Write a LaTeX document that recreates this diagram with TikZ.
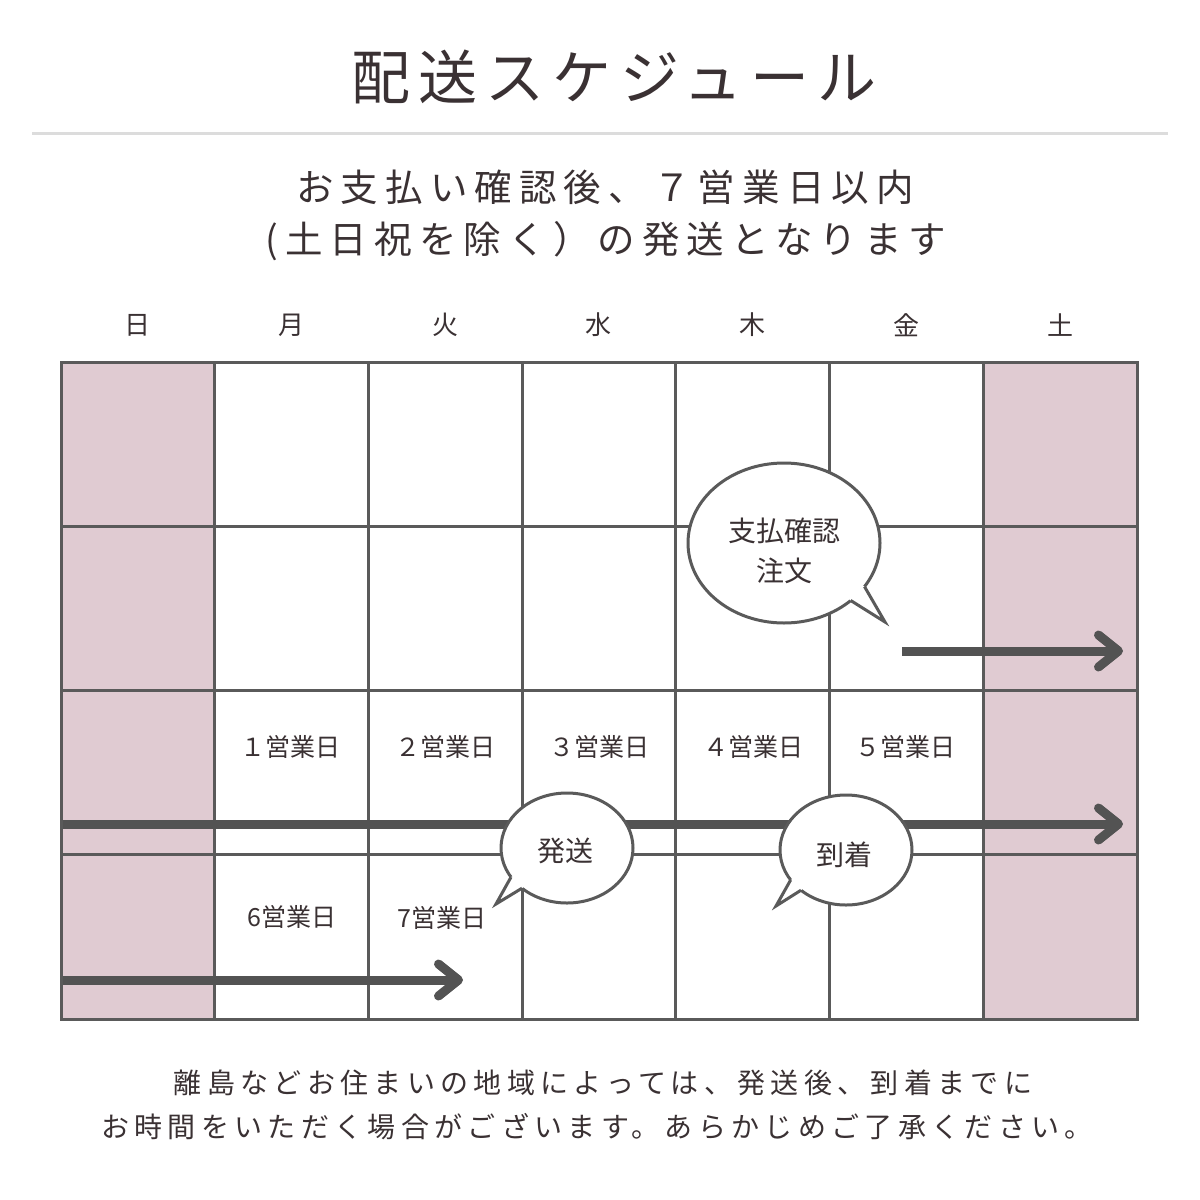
\documentclass[tikz,border=0pt]{standalone}
\usepackage{fontspec}
\usetikzlibrary{arrows.meta,shapes.geometric}
\newfontfamily\jp{Noto Sans CJK JP}
\newfontfamily\jpT{Noto Sans CJK JP}[LetterSpace=14]
\newfontfamily\jpS{Noto Sans CJK JP}[LetterSpace=19]
\definecolor{ink}{HTML}{3A3133}
\definecolor{gridc}{HTML}{5A5A5A}
\definecolor{pinkc}{HTML}{E0CBD2}
\definecolor{arrowc}{HTML}{535353}
\definecolor{sepc}{HTML}{DCDCDC}
\tikzset{
  txt/.style={text=ink, inner sep=0pt, anchor=center},
  titletxt/.style={txt, font={\jpT\fontsize{59}{62}\selectfont}},
  subtxt/.style={txt, font={\jpS\fontsize{37.5}{40}\selectfont}},
  daytxt/.style={txt, font={\jp\fontsize{26}{30}\selectfont}},
  celltxt/.style={txt, font={\jp\fontsize{25}{28}\selectfont}},
  bubtxt/.style={txt, align=center, font={\jp\fontsize{28}{40}\selectfont}},
  foottxt/.style={txt, font={\jpS\fontsize{28}{30}\selectfont}},
  gridline/.style={draw=gridc, line width=3pt},
  bigarrow/.style={draw=arrowc, line width=9pt, line cap=butt,
    -{Straight Barb[length=20pt, width=32pt, line cap=round, line join=round]}},
  bubble/.style={ellipse, draw=gridc, fill=white, line width=3pt, inner sep=0pt},
  tailfill/.style={fill=white},
  tailline/.style={draw=gridc, line width=3pt, line join=miter},
}
\begin{document}
\begin{tikzpicture}[x=1pt,y=-1pt]
\useasboundingbox (0,0) rectangle (1200,1200);
\fill[white] (0,0) rectangle (1200,1200);

% title
\node[titletxt] (title) at (614,77) {配送スケジュール};
\coordinate (sepL) at (32,133);
\coordinate (sepR) at (1168,133);
\draw[sepc, line width=3pt] (sepL) -- (sepR);

% subtitle
\node[subtxt] (sub1) at (605,187) {お支払い確認後、７営業日以内};
\node[subtxt] (sub2) at (606,241) {(土日祝を除く）の発送となります};

% day labels
\foreach \d [count=\i from 0] in {日,月,火,水,木,金,土}
  \node[daytxt] (day\i) at ({61+153.71*\i+76.86},325) {\d};

% pink columns
\fill[pinkc] (61,362) rectangle (214.71,1019);
\fill[pinkc] (983.29,362) rectangle (1137,1019);

% grid
\foreach \i in {1,...,6}
  \draw[gridline] ({61+153.71*\i},362) -- ({61+153.71*\i},1019);
\foreach \y in {526.25,690.5,854.75}
  \draw[gridline] (61,\y) -- (1137,\y);
\draw[gridline] (61,362) rectangle (1137,1019);

% cell labels
\node[celltxt] (c1) at (290,747) {１営業日};
\node[celltxt] (c2) at (445,747) {２営業日};
\node[celltxt] (c3) at (599,747) {３営業日};
\node[celltxt] (c4) at (753,747) {４営業日};
\node[celltxt] (c5) at (905,747) {５営業日};
\node[celltxt] (c6) at (292,917) {6営業日};
\node[celltxt] (c7) at (442,918) {7営業日};

% arrows
\coordinate (a1s) at (902,651);
\coordinate (a1e) at (1123,651);
\coordinate (a2s) at (62.5,824);
\coordinate (a2e) at (1123,824);
\coordinate (a3s) at (62.5,980);
\coordinate (a3e) at (463,980);
\draw[bigarrow] (a1s) -- (a1e);
\draw[bigarrow] (a2s) -- (a2e);
\draw[bigarrow] (a3s) -- (a3e);

% bubble 1
\node[bubble, minimum width=192pt, minimum height=160pt] (b1) at (784,543) {};
\coordinate (b1A) at (864.5,586.6);
\coordinate (b1T) at (885,622);
\coordinate (b1B) at (850.7,600.5);
\fill[tailfill] (861,584.7) -- (b1A) -- (b1T) -- (b1B) -- (847.7,597.9) -- cycle;
\draw[tailline] (b1A) -- (b1T) -- (b1B);
\node[bubtxt] (b1t) at (784,551) {支払確認\\注文};

% bubble 2
\node[bubble, minimum width=132pt, minimum height=110pt] (b2) at (567,848) {};
\coordinate (b2A) at (511,877.1);
\coordinate (b2T) at (496,904);
\coordinate (b2B) at (522,888.2);
\fill[tailfill] (514.6,875.3) -- (b2A) -- (b2T) -- (b2B) -- (525,885.5) -- cycle;
\draw[tailline] (b2A) -- (b2T) -- (b2B);
\node[bubtxt] (b2t) at (565,851) {発送};

% bubble 3
\node[bubble, minimum width=132pt, minimum height=110pt] (b3) at (846,850) {};
\coordinate (b3A) at (790.65,879.95);
\coordinate (b3T) at (776,906);
\coordinate (b3B) at (801,890.2);
\fill[tailfill] (794.2,878.2) -- (b3A) -- (b3T) -- (b3B) -- (804,887.5) -- cycle;
\draw[tailline] (b3A) -- (b3T) -- (b3B);
\node[bubtxt] (b3t) at (844,855) {到着};

% footer
\node[foottxt] (f1) at (603,1083) {離島などお住まいの地域によっては、発送後、到着までに};
\node[foottxt] (f2) at (597,1127) {お時間をいただく場合がございます。あらかじめご了承ください。};
\end{tikzpicture}
\end{document}
